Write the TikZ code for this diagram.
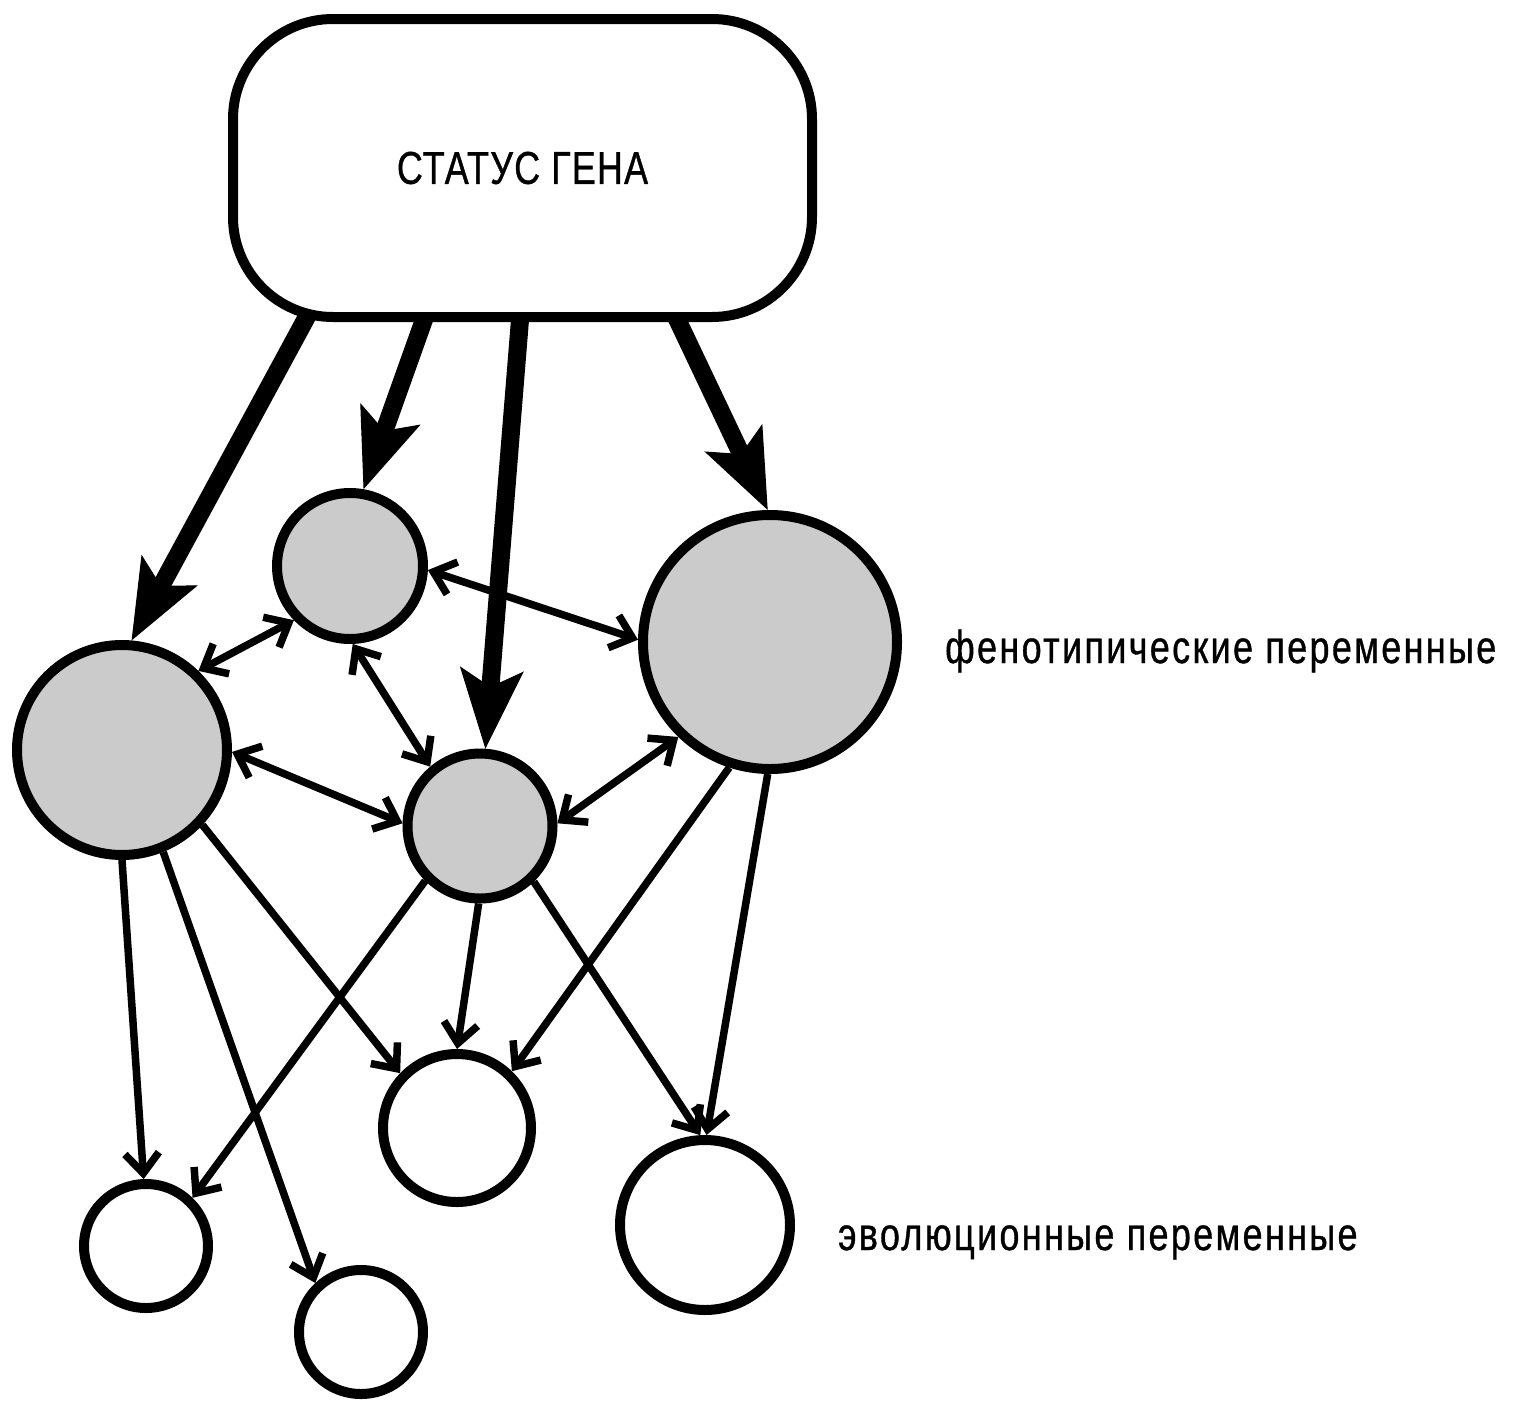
\documentclass[tikz,border=0pt]{standalone}
\usepackage{fontspec}
\newfontfamily\boxfont{Liberation Sans}[FakeStretch=0.78, LetterSpace=2.6, FakeBold=0.8]
\newfontfamily\legendfont{Liberation Sans}[FakeStretch=0.78, LetterSpace=5.2, FakeBold=0.8]
\usetikzlibrary{arrows.meta,backgrounds}
\definecolor{pgray}{RGB}{203,203,203}

\begin{document}
\begin{tikzpicture}[x=1pt,y=-1pt,
  var/.style={circle, draw=black, line width=10pt, inner sep=0pt},
  pheno/.style={var, fill=pgray},
  evo/.style={var, fill=white},
  gene/.style={draw=black, line width=10pt, rounded corners=100pt, fill=white,
    inner sep=0pt, minimum width=579pt, minimum height=298pt,
    font=\boxfont\fontsize{46}{50}\selectfont},
  cause/.style={line width=18pt,
    -{Stealth[length=80pt,width=64pt,inset=18pt,line width=1pt]}},
  barb/.tip={Straight Barb[length=20pt,width=34pt]},
  link/.style={line width=7.5pt, -barb},
  mutual/.style={line width=7.5pt, barb-barb},
  legendtext/.style={anchor=base west, inner sep=0pt,
    font=\legendfont\fontsize{46}{50}\selectfont}
]
\useasboundingbox (0,0) rectangle (1513,1403);

% gene status box
\node[gene] (box) at (522.5,168) {СТАТУС ГЕНА};

% phenotypic variables
\node[pheno, minimum size=210pt] (A) at (122,750) {};
\node[pheno, minimum size=146pt] (B) at (350,566) {};
\node[pheno, minimum size=254pt] (C) at (770,642) {};
\node[pheno, minimum size=145pt] (D) at (480,826) {};

% evolutionary variables
\node[evo, minimum size=148pt] (E) at (457,1128) {};
\node[evo, minimum size=170pt] (F) at (705,1225) {};
\node[evo, minimum size=124pt] (G) at (146,1246) {};
\node[evo, minimum size=124pt] (H) at (361,1332) {};

% start points of the thick arrows, just inside the box
\coordinate (g1) at (316,300);
\coordinate (g2) at (431,300);
\coordinate (g3) at (521.6,300);
\coordinate (g4) at (668,300);

\begin{scope}[on background layer]
  \draw[cause] (g1) -- (A.85);
  \draw[cause] (g2) -- (B.80);
  \draw[cause] (g3) -- (D.86);
  \draw[cause] (g4) -- (C.91);
\end{scope}

% interactions among phenotypic variables
\draw[mutual] (A.46) -- (B.224);
\draw[mutual] (B.-3) -- (C.179);
\draw[mutual] (B.-88) -- (D.130);
\draw[mutual] (A.-1.5) -- (D.178);
\draw[mutual] (D.2) -- (C.226);

% effects on evolutionary variables
\draw[link] (A.-90) -- (G.92);
\draw[link] (A.-68) -- (H.133);
\draw[link] (A.-43) -- (E.136);
\draw[link] (D.-135) -- (G.46);
\draw[link] (D.-91) -- (E.90);
\draw[link] (D.-46) -- (F.93);
\draw[link] (C.-108) -- (E.46);
\draw[link] (C.-91) -- (F.89);

% row captions
\node[legendtext] (ph) at (945,663) {фенотипические переменные};
\node[legendtext] (ev) at (838,1250) {эволюционные переменные};
\end{tikzpicture}
\end{document}
